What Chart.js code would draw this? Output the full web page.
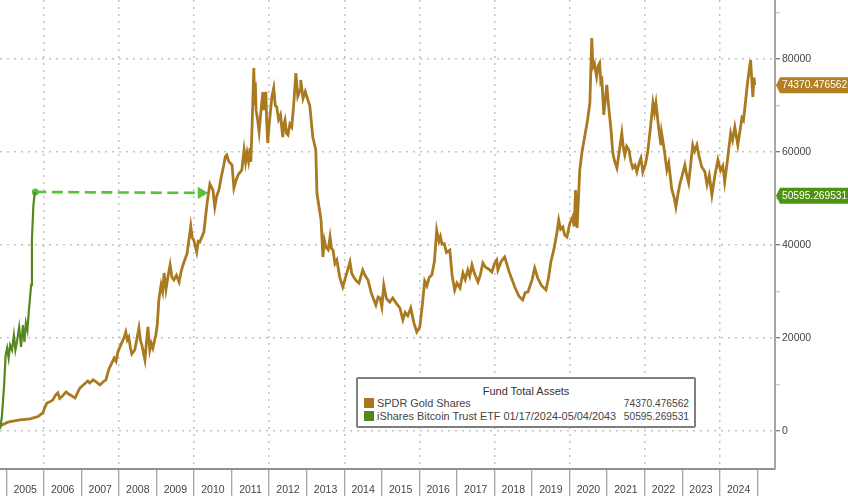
<!DOCTYPE html>
<html>
<head>
<meta charset="utf-8">
<script src="https://cdn.jsdelivr.net/npm/chart.js@4"></script>
<style>
  html, body { margin: 0; padding: 0; background: #fff; }
  #wrap { position: relative; width: 848px; height: 496px; overflow: hidden; font-family: "Liberation Sans", Arial, sans-serif; }
  #chart { position: absolute; left: 0; top: 0; filter: blur(0.35px); }
  #legend { position: absolute; left: 356px; top: 377px; width: 336px; height: 47px; border: 2px solid #7f7f7f; border-radius: 2px; background: #fff; color: #444; font-size: 10.9px; line-height: 12.5px; }
  #legend .title { position: absolute; left: 0; right: 0; top: 6px; text-align: center; color: #333; font-size: 11px; }
  #legend .row { position: absolute; left: 6px; right: 5px; display: flex; justify-content: space-between; align-items: baseline; white-space: nowrap; }
  #legend .value { font-size: 10.2px; }
  #legend .swatch { display: inline-block; width: 10px; height: 10px; margin-right: 3px; vertical-align: -1px; }
</style>
</head>
<body>
<div id="wrap">
  <canvas id="chart" width="848" height="496"></canvas>
  <div id="legend"></div>
</div>
<script>
const yearLabels = [2005, 2006, 2007, 2008, 2009, 2010, 2011, 2012, 2013, 2014, 2015, 2016, 2017, 2018, 2019, 2020, 2021, 2022, 2023, 2024];
const yTicks = [0, 10000, 20000, 30000, 40000, 50000, 60000, 70000, 80000, 90000];

const goldTimes = [
  2004.83, 2005.04, 2005.36, 2005.63, 2005.84, 2005.97,
  2006.03, 2006.08, 2006.16, 2006.24, 2006.30, 2006.37, 2006.42, 2006.48, 2006.59, 2006.67, 2006.75, 2006.83, 2006.90, 2006.96,
  2007.08, 2007.17, 2007.22, 2007.31, 2007.40, 2007.49, 2007.58, 2007.65, 2007.73, 2007.80, 2007.87, 2007.92, 2007.97,
  2008.03, 2008.08, 2008.13, 2008.18, 2008.22, 2008.26, 2008.30, 2008.34, 2008.42, 2008.48, 2008.53, 2008.57, 2008.61, 2008.65, 2008.69, 2008.73, 2008.77, 2008.82, 2008.86, 2008.90, 2008.94, 2008.98,
  2009.02, 2009.06, 2009.12, 2009.16, 2009.20, 2009.25, 2009.30, 2009.36, 2009.41, 2009.46, 2009.53, 2009.60, 2009.66, 2009.73, 2009.81, 2009.86, 2009.91, 2009.95, 2009.99,
  2010.03, 2010.07, 2010.11, 2010.15, 2010.26, 2010.34, 2010.38, 2010.42, 2010.50, 2010.55, 2010.60, 2010.66, 2010.72, 2010.79, 2010.83, 2010.87, 2010.92,
  2011.01, 2011.06, 2011.12, 2011.17, 2011.27, 2011.33, 2011.37, 2011.41, 2011.45, 2011.49, 2011.51, 2011.54, 2011.59, 2011.61, 2011.63, 2011.65, 2011.69, 2011.73, 2011.77, 2011.83, 2011.86, 2011.91, 2011.93, 2011.96,
  2012.00, 2012.07, 2012.12, 2012.16, 2012.20, 2012.25, 2012.30, 2012.36, 2012.39, 2012.42, 2012.46, 2012.50, 2012.55, 2012.60, 2012.65, 2012.71, 2012.76, 2012.82, 2012.84, 2012.90, 2012.96,
  2013.03, 2013.08, 2013.16, 2013.24, 2013.27, 2013.33, 2013.38, 2013.43, 2013.47, 2013.51, 2013.57, 2013.62, 2013.66, 2013.70, 2013.75, 2013.80, 2013.88, 2013.96,
  2014.05, 2014.15, 2014.20, 2014.25, 2014.32, 2014.39, 2014.49, 2014.55, 2014.63, 2014.72, 2014.84, 2014.90, 2014.95,
  2015.00, 2015.05, 2015.12, 2015.21, 2015.29, 2015.38, 2015.48, 2015.56, 2015.62, 2015.69, 2015.77, 2015.85, 2015.93,
  2016.01, 2016.07, 2016.14, 2016.20, 2016.26, 2016.33, 2016.40, 2016.46, 2016.52, 2016.56, 2016.60, 2016.66, 2016.72, 2016.81, 2016.87, 2016.94,
  2017.00, 2017.08, 2017.16, 2017.22, 2017.29, 2017.34, 2017.40, 2017.46, 2017.56, 2017.62, 2017.69, 2017.76, 2017.85, 2017.93,
  2018.00, 2018.06, 2018.09, 2018.18, 2018.27, 2018.40, 2018.54, 2018.65, 2018.75, 2018.82, 2018.89,
  2019.00, 2019.07, 2019.15, 2019.25, 2019.37, 2019.44, 2019.50, 2019.58, 2019.66, 2019.71, 2019.76, 2019.82, 2019.87, 2019.93,
  2020.00, 2020.08, 2020.12, 2020.16, 2020.20, 2020.27, 2020.33, 2020.40, 2020.48, 2020.54, 2020.59, 2020.62, 2020.66, 2020.72, 2020.76, 2020.80, 2020.83, 2020.86, 2020.91, 2020.99,
  2021.04, 2021.10, 2021.15, 2021.20, 2021.26, 2021.32, 2021.39, 2021.43, 2021.47, 2021.52, 2021.58, 2021.63, 2021.68, 2021.74, 2021.79, 2021.85, 2021.90, 2021.95,
  2022.02, 2022.08, 2022.15, 2022.22, 2022.26, 2022.30, 2022.36, 2022.43, 2022.45, 2022.52, 2022.59, 2022.64, 2022.72, 2022.79, 2022.83, 2022.88, 2022.93,
  2023.00, 2023.07, 2023.12, 2023.17, 2023.22, 2023.28, 2023.33, 2023.39, 2023.45, 2023.52, 2023.60, 2023.66, 2023.72, 2023.79, 2023.87, 2023.95,
  2024.02, 2024.08, 2024.13, 2024.20, 2024.29, 2024.34, 2024.40, 2024.48, 2024.59, 2024.63, 2024.67, 2024.74, 2024.82, 2024.88, 2024.91, 2024.93];
const goldValues = [
  1100, 1900, 2400, 2600, 3100, 3900,
  5200, 6000, 6300, 6700, 7600, 8200, 7000, 7400, 8400, 7900, 7500, 7100, 8300, 9250,
  10100, 10750, 10300, 11000, 10500, 9900, 10600, 11000, 13300, 14500, 15700, 15000, 17000,
  18200, 19100, 20000, 21300, 19600, 20200, 18000, 16560, 17420, 20000, 22150, 19500, 18490, 16800, 15270, 19000, 22370, 17420, 18800, 17850, 19300, 20640,
  23000, 28170, 31400, 30000, 33980, 30400, 33000, 35700, 33000, 32470, 33500, 32040, 34500, 36340, 38060, 41000, 44090, 41500, 41070,
  39800, 38490, 40800, 40640, 42790, 48600, 51000, 53120, 51830, 48170, 50500, 51830, 54500, 57200, 59000, 59350, 58000,
  57200, 52260, 54000, 55050, 56130, 60430, 57800, 59800, 58000, 60860, 57850, 64730, 78060, 70000, 75000, 69000, 67000, 64300, 68000, 72900, 69000, 72900, 67000, 61930,
  66000, 71830, 73760, 70000, 69680, 67000, 68000, 63220, 66000, 66880, 64000, 63650, 66000, 65380, 70000, 76990, 72000, 73330, 75480, 71500, 73000,
  71180, 70000, 63220, 60430, 51180, 48000, 45370, 37420, 41000, 39570, 39000, 41720, 39200, 38920, 36000, 36770, 33000, 30970,
  33500, 36340, 33800, 33120, 32300, 31830, 34620, 33500, 32470, 29600, 27100, 28800, 28600,
  26670, 31400, 28500, 27740, 28600, 27500, 26450, 23870, 25500, 24800, 26450, 23300, 21290,
  22370, 26500, 32260, 31200, 33000, 33550, 36500, 43220, 40800, 41800, 40200, 40300, 38400, 38920, 33500, 30320,
  31800, 30750, 33980, 32600, 34620, 33300, 35700, 34000, 32040, 33500, 36130, 35200, 34800, 34190,
  36000, 36770, 34620, 36500, 37420, 34000, 30970, 29000, 28170, 29800, 29890,
  32500, 35050, 32900, 31300, 30320, 33000, 36340, 39000, 42580, 45370, 43400, 43870, 42100, 41720,
  44500, 46020, 44000, 51830, 43660, 56130, 60000, 63220, 67000, 70540, 84510, 78280, 79000, 76130, 78500, 79140, 75000, 75480, 67960, 74410,
  69680, 65000, 59780, 58000, 56560, 60000, 64080, 61000, 59350, 61200, 60430, 58000, 56560, 57200, 55700, 57600, 58710, 55700,
  57400, 60000, 65000, 70540, 68500, 70540, 66000, 61500, 64080, 60500, 56130, 57630, 52000, 50000, 48170, 50700, 52900,
  55000, 57200, 55000, 53330, 57000, 61500, 60200, 61500, 59000, 56770, 55800, 53000, 55000, 50750, 55000, 58280,
  56000, 57000, 53550, 58000, 64080, 62500, 65380, 61500, 67310, 66800, 69680, 75050, 79780, 71830, 76000, 74370];

const btcTimes = [2004.83, 2004.88, 2004.94, 2004.98, 2005.02, 2005.06, 2005.10, 2005.15, 2005.20, 2005.24, 2005.28, 2005.34, 2005.39, 2005.44, 2005.48, 2005.52, 2005.56, 2005.60, 2005.66, 2005.68, 2005.72, 2005.76];
const btcValues = [430, 3010, 9890, 16340, 17850, 15700, 18490, 17420, 20640, 17420, 19140, 22370, 18060, 22800, 19140, 23220, 21720, 26020, 31400, 41070, 48600, 51400];

const arrowTimes = [2005.77, 2010.19];
const arrowValues = [51400, 51200];

const legendTitle = 'Fund Total Assets';
const goldName = 'SPDR Gold Shares';
const btcName = 'iShares Bitcoin Trust ETF 01/17/2024-05/04/2043';
const goldLast = '74370.476562';
const btcLast = '50595.269531';
const goldLastValue = 74370.476562;
const btcLastValue = 50595.269531;

const goldColor = '#a97a20';
const btcColor = '#55881c';
const font = '"Liberation Sans", Arial, sans-serif';

function zip(xs, ys) {
    return xs.map((x, i) => ({ x: x, y: ys[i] }));
}

// price tags sitting on the right axis, same shape as the terminal's
const lastTags = {
    id: 'lastTags',
    afterDraw(chart) {
        const ctx = chart.ctx;
        const y = chart.scales.y;
        const left = chart.chartArea.right + 1;
        const tags = [
            [goldLastValue, goldLast, '#b27f22'],
            [btcLastValue, btcLast, '#4f9212']
        ];
        tags.forEach(t => {
            const py = y.getPixelForValue(t[0]);
            ctx.save();
            ctx.fillStyle = t[2];
            ctx.beginPath();
            ctx.moveTo(left, py);
            ctx.lineTo(left + 4, py - 8);
            ctx.lineTo(848, py - 8);
            ctx.lineTo(848, py + 8);
            ctx.lineTo(left + 4, py + 8);
            ctx.closePath();
            ctx.fill();
            ctx.fillStyle = '#fff';
            ctx.font = '10.2px ' + font;
            ctx.textBaseline = 'middle';
            ctx.fillText(t[1], left + 6, py + 0.5);
            ctx.restore();
        });
    }
};

new Chart(document.getElementById('chart').getContext('2d'), {
    type: 'line',
    data: {
        datasets: [
            { data: zip(btcTimes, btcValues), borderColor: btcColor, borderWidth: 2.2, pointRadius: 0 },
            { data: zip(goldTimes, goldValues), borderColor: goldColor, borderWidth: 2.8, pointRadius: 0 },
            {
                data: zip(arrowTimes, arrowValues),
                borderColor: '#58c03a',
                backgroundColor: '#58c03a',
                borderWidth: 2.6,
                borderDash: [11, 5.5],
                pointStyle: ['circle', 'triangle'],
                pointRotation: [0, 90],
                pointRadius: [3.5, 7],
                pointBorderWidth: 0
            }
        ]
    },
    plugins: [lastTags],
    options: {
        responsive: false,
        animation: false,
        layout: { padding: 0, autoPadding: false },
        plugins: { legend: { display: false }, tooltip: { enabled: false } },
        scales: {
            x: {
                type: 'linear',
                min: 2004.83,
                max: 2025.47,
                afterFit(s) { s.height = 27; s.paddingLeft = 0; s.paddingRight = 0; },
                afterBuildTicks(s) {
                    // year boundaries get the tick marks, mid-years carry the labels
                    const t = [];
                    yearLabels.forEach(yr => { t.push({ value: yr }); t.push({ value: yr + 0.5 }); });
                    t.push({ value: yearLabels[yearLabels.length - 1] + 1 });
                    s.ticks = t;
                },
                grid: {
                    color: c => (c.tick && c.tick.value % 2 === 0 ? '#c2c2c2' : 'rgba(0,0,0,0)'),
                    lineWidth: 1.5,
                    tickLength: 27,
                    tickWidth: 1,
                    tickColor: c => (c.tick && Number.isInteger(c.tick.value) ? '#8a8a8a' : 'rgba(0,0,0,0)')
                },
                border: { color: '#8f8f8f', width: 2, dash: [2, 5] },
                ticks: {
                    autoSkip: false,
                    maxRotation: 0,
                    padding: -12,
                    color: '#444',
                    font: { family: font, size: 10.5 },
                    callback: v => (Number.isInteger(v) ? '' : String(Math.floor(v)))
                }
            },
            y: {
                type: 'linear',
                position: 'right',
                min: -8172,
                max: 92688,
                afterFit(s) { s.width = 73; s.paddingTop = 0; s.paddingBottom = 0; },
                afterBuildTicks(s) { s.ticks = yTicks.map(v => ({ value: v })); },
                grid: {
                    color: c => (c.tick && c.tick.value % 20000 === 0 && c.tick.value <= 80000 ? '#c2c2c2' : 'rgba(0,0,0,0)'),
                    lineWidth: 1.5,
                    tickLength: 5,
                    tickWidth: 1,
                    tickColor: c => (c.tick && c.tick.value % 20000 === 0 ? '#555' : '#bbb')
                },
                border: { color: '#a8a8a0', width: 2, dash: [2, 5] },
                ticks: {
                    padding: 2,
                    color: '#444',
                    font: { family: font, size: 10.5 },
                    callback: v => (v % 20000 === 0 && v <= 80000 ? String(v) : '')
                }
            }
        }
    }
});

function legendRow(top, color, name, value) {
    return '<div class="row" style="top:' + top + 'px"><span><span class="swatch" style="background:' + color + '"></span>' + name + '</span><span class="value">' + value + '</span></div>';
}
document.getElementById('legend').innerHTML =
    '<div class="title">' + legendTitle + '</div>' +
    legendRow(18, '#a9761c', goldName, goldLast) +
    legendRow(31, '#4f8a18', btcName, btcLast);
</script>
</body>
</html>
